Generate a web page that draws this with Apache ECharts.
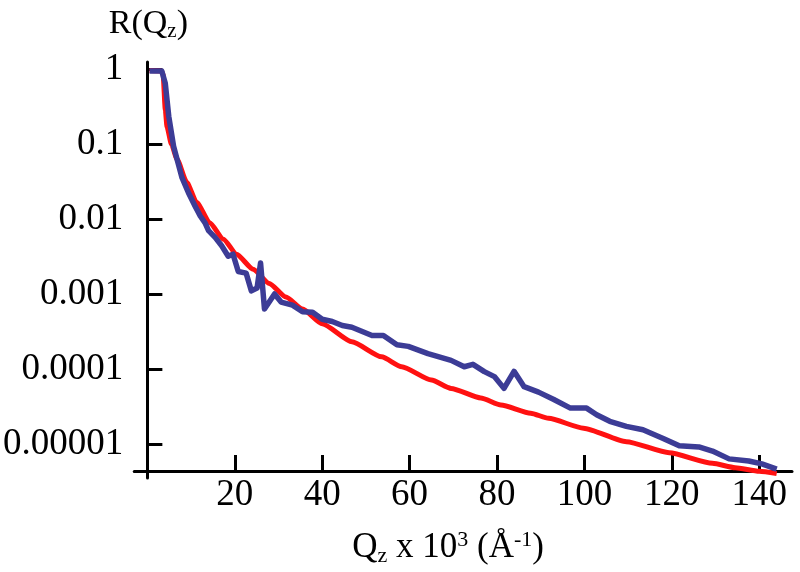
<!DOCTYPE html>
<html>
<head>
<meta charset="utf-8">
<script src="https://cdn.jsdelivr.net/npm/echarts@6/dist/echarts.min.js"></script>
<style>html,body{margin:0;padding:0;background:#fff}#c{width:800px;height:572px}</style>
</head>
<body>
<div id="c"></div>
<script>
// Measured reflectivity
var qMeasured = [0.5,3.3,4.1,4.9,6.0,7.9,9.4,10.9,12.1,13.2,14.0,15.5,17.0,18.5,19.6,20.8,22.6,23.8,25.1,25.9,26.8,29.1,30.6,33.2,35.5,37.8,40.0,42.3,44.6,46.8,51.4,54.0,57.1,59.7,64.2,69.5,72.5,74.5,77.1,79.4,81.6,83.9,86.2,89.5,93.0,96.8,100.5,102.8,105.8,109.6,113.4,117.9,121.7,126.2,129.3,133.1,137.6,140.6,144.0];
var rMeasured = [0.95,0.95,0.65,0.235,0.094,0.036,0.0225,0.015,0.011,0.0089,0.0070,0.0057,0.0044,0.0032,0.0034,0.0020,0.0019,0.0011,0.0012,0.0026,0.00063,0.0010,0.00078,0.00071,0.00058,0.00057,0.00046,0.00043,0.00038,0.00036,0.00028,0.00028,0.00021,0.00020,0.00016,0.00013,0.000107,0.000115,0.000092,0.000079,0.000055,0.000093,0.000058,0.000049,0.000039,0.000030,0.000030,0.0000245,0.0000200,0.0000171,0.0000154,0.0000119,0.0000094,0.0000091,0.0000080,0.0000063,0.0000059,0.0000054,0.0000046];
// Fitted reflectivity
var qFit = [0.5,3.2,3.6,4.1,4.5,5.5,6.8,9.0,11.3,14.3,17.4,20.4,24.2,27.9,31.7,35.5,40.0,46.8,53.6,58.2,65.0,69.5,76.3,80.9,87.7,91.8,99.8,109.6,119.4,129.3,134.5,140.0,144.0];
var rFit = [0.96,0.95,0.85,0.29,0.17,0.10,0.063,0.031,0.0166,0.0089,0.0054,0.0034,0.00214,0.00138,0.00091,0.00063,0.00040,0.00023,0.000145,0.000107,0.000071,0.000055,0.000041,0.000033,0.0000257,0.0000219,0.0000162,0.0000107,0.0000076,0.0000055,0.0000048,0.0000043,0.0000040];
// Tick values
var xTicks = [20,40,60,80,100,120,140];
var yTicks = [0.00001,0.0001,0.001,0.01,0.1,1];
var yTickLabels = ['0.00001','0.0001','0.001','0.01','0.1','1'];

function pairs(a,b){return a.map(function(v,i){return [v,b[i]];});}

var FONT = 'Liberation Serif';
var chart = echarts.init(document.getElementById('c'));
chart.setOption({
  animation:false,
  backgroundColor:'#fff',
  grid:{left:130,right:8,top:62,bottom:92,containLabel:false},
  xAxis:{
    type:'value',min:-3,max:147.5,offset:-7,
    axisLine:{show:true,lineStyle:{color:'#000',width:3}},
    axisTick:{show:true,inside:true,length:16,lineStyle:{color:'#000',width:3},customValues:xTicks},
    axisLabel:{show:true,color:'#000',fontFamily:FONT,fontSize:37,margin:6,customValues:xTicks},
    splitLine:{show:false},
    name:'{n|Q}{sub|z}{n| x 10}{sup|3}{n| (Å}{sup|-1}{n|)}',
    nameLocation:'middle',nameGap:58,
    nameTextStyle:{padding:[0,30,0,0],rich:{
      n:{fontFamily:FONT,fontSize:35,color:'#000',lineHeight:38},
      sub:{fontFamily:FONT,fontSize:22,color:'#000',verticalAlign:'bottom',lineHeight:20},
      sup:{fontFamily:FONT,fontSize:22,color:'#000',verticalAlign:'top',lineHeight:22}
    }}
  },
  yAxis:{
    type:'log',logBase:10,min:0.0000035,max:1.25,
    axisLine:{show:true,onZero:true,lineStyle:{color:'#000',width:3}},
    axisTick:{show:true,inside:true,length:15,lineStyle:{color:'#000',width:3},customValues:yTicks},
    axisLabel:{show:true,color:'#000',fontFamily:FONT,fontSize:37,margin:11,customValues:yTicks,
      formatter:function(v){var i=yTicks.findIndex(function(t){return Math.abs(Math.log10(t)-Math.log10(v))<1e-6;});return i>=0?yTickLabels[i]:'';}},
    splitLine:{show:false},
    name:'{n|R(Q}{sub|z}{n|)}',
    nameLocation:'end',nameGap:20,
    nameTextStyle:{padding:[0,0,0,2],rich:{
      n:{fontFamily:FONT,fontSize:34,color:'#000',lineHeight:36},
      sub:{fontFamily:FONT,fontSize:21,color:'#000',verticalAlign:'bottom',lineHeight:20}
    }}
  },
  series:[
    {type:'line',data:pairs(qFit,rFit),smooth:0.2,smoothMonotone:'x',showSymbol:false,
      lineStyle:{color:'#ff1111',width:5},z:2},
    {type:'line',data:pairs(qMeasured,rMeasured),smooth:false,showSymbol:false,
      lineStyle:{color:'#3c3c96',width:5.5,join:'round'},z:3}
  ]
});
</script>
</body>
</html>
